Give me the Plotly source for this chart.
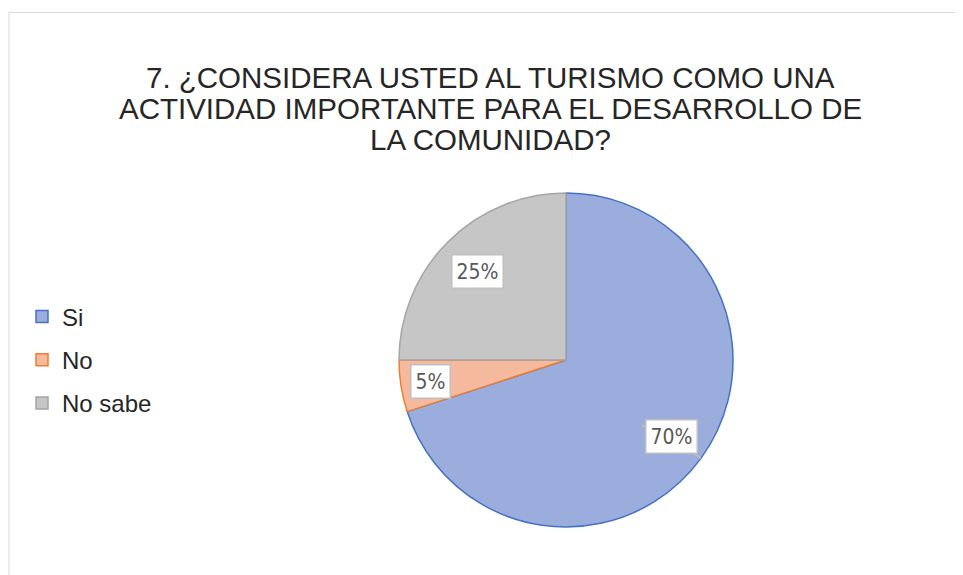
import math
import plotly.graph_objects as go

# survey answers
categories = ['Si', 'No', 'No sabe']
percentages = [70, 5, 25]
fill_colors = ['#9AADDC', '#F5BA9E', '#C6C6C6']
line_colors = ['#4472C4', '#ED7D31', '#A5A5A5']

title_lines = ["7. ¿CONSIDERA USTED AL TURISMO COMO UNA",
               "ACTIVIDAD IMPORTANTE PARA EL DESARROLLO DE",
               "LA COMUNIDAD?"]

W, H = 963, 575
OFF = 8  # page body margin shifts the plot by this much


def xp(px):
    return (px - OFF) / W


def yp(py):
    return 1 - (py - OFF) / H


# pie placement in pixels
cx, cy, R = 566, 360, 167
label_r = [0.78, 0.82, 0.75]

fig = go.Figure()

fig.add_trace(go.Pie(
    labels=categories,
    values=percentages,
    sort=False,
    direction='clockwise',
    rotation=0,
    textinfo='none',
    hoverinfo='label+percent',
    marker=dict(colors=fill_colors, line=dict(color=line_colors, width=1.5)),
    showlegend=False,
    domain=dict(x=[xp(cx - R), xp(cx + R)], y=[yp(cy + R), yp(cy - R)]),
))

# legend entries (separate so spacing can be controlled)
for i, cat in enumerate(categories):
    fig.add_trace(go.Scatter(
        x=[None], y=[None], mode='markers', name=cat,
        legendgroup=cat,
        marker=dict(symbol='square', size=12, color=fill_colors[i],
                    line=dict(color=line_colors[i], width=1.5)),
    ))

annotations = []
# title, one annotation per line to keep the tight line spacing
for k, line in enumerate(title_lines):
    annotations.append(dict(
        x=xp(491), y=yp(77 + k * 31.5), xref='paper', yref='paper',
        xanchor='center', yanchor='middle', text=line, showarrow=False,
        font=dict(family='Liberation Sans, Arial', size=29.5, color='#262626'),
    ))

# data labels positioned at each slice's mid angle
total = sum(percentages)
cum = 0
for i, v in enumerate(percentages):
    mid = (cum + v / 2) / total * 2 * math.pi
    cum += v
    px = cx + label_r[i] * R * math.sin(mid)
    py = cy - label_r[i] * R * math.cos(mid)
    annotations.append(dict(
        x=xp(px), y=yp(py), xref='paper', yref='paper',
        xanchor='center', yanchor='middle',
        text=f"{round(v / total * 100)}%", showarrow=False,
        font=dict(family='DejaVu Sans Condensed, Liberation Sans Narrow, Arial Narrow', size=21, color='#595959'),
        bgcolor='white', bordercolor='#BFBFBF', borderwidth=1.5, borderpad=4,
    ))

# leader line on the big slice
mid0 = percentages[0] / 2 / total * 2 * math.pi
shapes = [
    dict(type='line', xref='paper', yref='paper',
         x0=xp(cx + 0.6 * R * math.sin(mid0 + 0.08)), y0=yp(cy - 0.6 * R * math.cos(mid0 + 0.08)),
         x1=xp(cx + R * math.sin(mid0)), y1=yp(cy - R * math.cos(mid0)),
         line=dict(color='#BFBFBF', width=1.5), layer='above'),
    # chart area border
    dict(type='rect', xref='paper', yref='paper',
         x0=xp(9), y0=-0.05, x1=1.05, y1=yp(12.5),
         line=dict(color='#D9D9D9', width=1), layer='below'),
]

fig.update_layout(
    width=W, height=H,
    margin=dict(l=0, r=0, t=0, b=0),
    paper_bgcolor='white',
    plot_bgcolor='white',
    font=dict(family='Liberation Sans, Arial', color='#262626'),
    xaxis=dict(visible=False),
    yaxis=dict(visible=False),
    showlegend=True,
    legend=dict(x=xp(22), xanchor='left', y=yp(360), yanchor='middle',
                font=dict(size=24, color='#262626'), tracegroupgap=9,
                itemwidth=30, bgcolor='rgba(0,0,0,0)'),
    annotations=annotations,
    shapes=shapes,
)

fig.write_html("out.html")
